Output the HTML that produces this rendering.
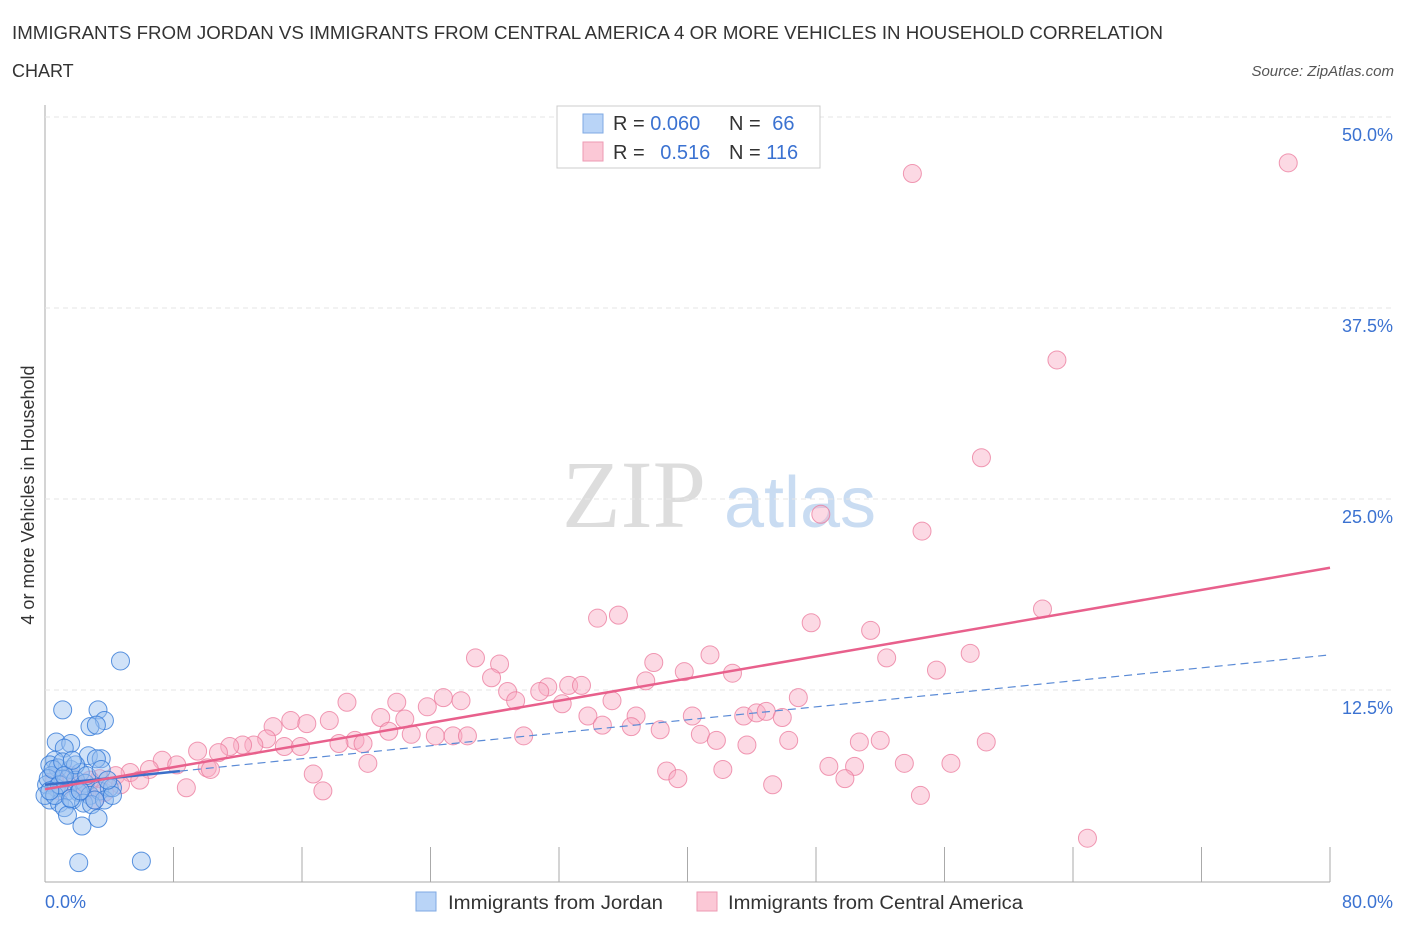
<!DOCTYPE html>
<html><head><meta charset="utf-8"><style>
body{margin:0;background:#fff;font-family:"Liberation Sans",sans-serif;}
#wrap{position:relative;width:1406px;height:930px;overflow:hidden}
</style></head><body>
<div id="wrap">
<svg id="svg" width="1406" height="930" xmlns="http://www.w3.org/2000/svg">
<text x="12" y="39" font-size="18" fill="#333" textLength="1151" lengthAdjust="spacingAndGlyphs">IMMIGRANTS FROM JORDAN VS IMMIGRANTS FROM CENTRAL AMERICA 4 OR MORE VEHICLES IN HOUSEHOLD CORRELATION</text>
<text x="12" y="77" font-size="18" fill="#333">CHART</text>
<text x="1394" y="76" font-size="15" fill="#555" font-style="italic" text-anchor="end">Source: ZipAtlas.com</text>
<text x="634" y="527" font-size="96" fill="#ddd" font-family="Liberation Serif,serif" text-anchor="middle">ZIP</text>
<text x="800" y="527" font-size="72" fill="#c9dcf2" text-anchor="middle">atlas</text>
<text transform="translate(34,495) rotate(-90)" font-size="18" fill="#333" text-anchor="middle">4 or more Vehicles in Household</text>
<g id="grid"></g><g id="marks"></g><g id="lines"></g>
<g>
<rect x="557" y="106" width="263" height="62" fill="#fff" stroke="#ccc"/>
<rect x="583" y="114" width="20" height="19" fill="#b9d4f7" stroke="#7fa9e3"/>
<rect x="583" y="142" width="20" height="19" fill="#fbc8d6" stroke="#ee9ab3"/>
<text x="613" y="130" font-size="20" fill="#333">R = <tspan fill="#3b72d1">0.060</tspan></text>
<text x="729" y="130" font-size="20" fill="#333">N = <tspan dx="6" fill="#3b72d1">66</tspan></text>
<text x="613" y="159" font-size="20" fill="#333">R = <tspan dx="10" fill="#3b72d1">0.516</tspan></text>
<text x="729" y="159" font-size="20" fill="#333">N = <tspan fill="#3b72d1">116</tspan></text>
</g>
<g>
<rect x="416" y="892" width="20" height="19" fill="#b9d4f7" stroke="#7fa9e3"/>
<text x="448" y="909" font-size="19" fill="#333" textLength="215" lengthAdjust="spacingAndGlyphs">Immigrants from Jordan</text>
<rect x="697" y="892" width="20" height="19" fill="#fbc8d6" stroke="#ee9ab3"/>
<text x="728" y="909" font-size="19" fill="#333" textLength="295" lengthAdjust="spacingAndGlyphs">Immigrants from Central America</text>
</g>
</svg></div>
<script>
const xTicks=[0,8,16,24,32,40,48,56,64,72,80];
const yTicks=[12.5,25,37.5,50];
const yTickLabels=["12.5%","25.0%","37.5%","50.0%"];
const pinkX=[54.0,77.4,63.0,58.3,48.3,54.6,62.1,34.4,35.7,47.7,51.4,26.8,28.3,41.4,37.9,52.4,57.6,39.8,55.5,27.8,42.8,37.4,31.3,32.6,33.4,28.8,30.8,24.8,25.9,29.3,18.8,21.9,23.8,32.2,35.3,46.9,20.9,22.4,33.8,36.8,40.3,43.5,44.3,44.9,45.9,15.3,16.3,17.7,14.2,21.4,34.7,36.5,22.8,24.3,25.4,26.3,29.8,38.3,40.8,19.3,19.8,18.3,13.8,14.9,15.9,41.8,46.3,43.7,50.7,52.0,58.6,13.0,12.3,11.5,10.8,9.5,7.3,8.2,10.1,10.3,20.1,48.8,50.4,53.5,56.4,16.7,38.7,42.2,39.4,49.8,45.3,17.3,8.8,54.5,64.9,6.5,5.3,4.4,3.4,2.8,4.7,5.9,1.9,0.9,2.5,3.7,1.6,0.6,3.1];
const pinkY=[46.3,47.0,34.1,27.7,24.0,22.9,17.8,17.2,17.4,16.9,16.4,14.6,14.2,14.8,14.3,14.6,14.9,13.7,13.8,13.3,13.6,13.1,12.7,12.8,12.8,12.4,12.4,12.0,11.8,11.8,11.7,11.7,11.4,11.6,11.8,12.0,10.7,10.6,10.8,10.8,10.8,10.8,11.0,11.1,10.7,10.5,10.3,10.5,10.1,9.8,10.2,10.1,9.6,9.5,9.5,9.5,9.5,9.9,9.6,9.2,9.0,9.0,9.3,8.8,8.8,9.2,9.2,8.9,9.1,9.2,9.1,8.9,8.9,8.8,8.4,8.5,7.9,7.6,7.4,7.3,7.7,7.5,7.5,7.7,7.7,7.0,7.2,7.3,6.7,6.7,6.3,5.9,6.1,5.6,2.8,7.3,7.1,6.9,6.7,6.6,6.3,6.6,6.3,5.9,5.9,5.8,6.9,6.6,5.3];
const blueX=[4.7,1.1,3.3,3.7,2.8,3.2,0.7,1.6,1.2,2.7,3.5,3.2,0.6,0.3,0.8,1.6,2.2,0.4,1.1,1.9,2.5,0.1,0.7,1.4,2.1,2.8,3.4,4.0,0.3,0.9,1.7,2.4,1.2,2.9,3.7,4.2,0,0.6,1.4,3.3,2.3,2.1,6.0,0.2,0.5,1.1,1.9,2.6,0.9,1.6,3.1,0.3,2.2,1.2,1.7,3.5,4.2,3.9];
const blueY=[14.4,11.2,11.2,10.5,10.1,10.2,9.1,9.0,8.7,8.2,8.0,8.0,7.9,7.6,7.4,7.3,7.1,6.9,6.7,6.6,6.4,6.3,6.1,5.9,5.8,5.6,5.9,6.1,5.3,5.1,5.3,5.1,4.8,5.0,5.3,6.1,5.6,5.6,4.3,4.1,3.6,1.2,1.3,6.7,7.3,7.8,7.6,6.9,6.3,5.4,5.3,5.9,5.9,6.9,7.9,7.3,5.6,6.6];
const pinkTrend=[6.0,20.5];
const blueTrend=[6.3,14.8];
const NS='http://www.w3.org/2000/svg';
const X=v=>45+v/80*1285, Y=v=>881-v/12.5*191;
function mk(t,a,p){const e=document.createElementNS(NS,t);for(const k in a)e.setAttribute(k,a[k]);p.appendChild(e);return e;}
const grid=document.getElementById('grid'),marks=document.getElementById('marks'),lines=document.getElementById('lines');
mk('line',{x1:45,y1:105,x2:45,y2:882,stroke:'#aaa'},grid);
mk('line',{x1:45,y1:882,x2:1330,y2:882,stroke:'#aaa'},grid);
yTicks.forEach((t,i)=>{
 const g=mk('line',{x1:45,y1:Y(t),x2:1395,y2:Y(t),stroke:'#e6e6e6','stroke-dasharray':'5,4'},grid);
 
 
 const tx=mk('text',{x:1393,y:Y(t)+24,'font-size':18,fill:'#3b72d1','text-anchor':'end'},grid);
 tx.textContent=yTickLabels[i];
 
 
});
xTicks.forEach(t=>{const l=mk('line',{x1:X(t),y1:847,x2:X(t),y2:882,stroke:'#aaa'},grid);
 
 });
let t0=mk('text',{x:45,y:908,'font-size':18,fill:'#3b72d1'},grid);t0.textContent='0.0%';


let t1=mk('text',{x:1393,y:908,'font-size':18,fill:'#3b72d1','text-anchor':'end'},grid);t1.textContent='80.0%';


pinkX.forEach((v,i)=>{const c=mk('circle',{cx:X(v),cy:Y(pinkY[i]),r:9,fill:'rgba(248,170,195,0.45)',stroke:'rgba(235,120,155,0.75)','stroke-width':1},marks);
 
 });
blueX.forEach((v,i)=>{const c=mk('circle',{cx:X(v),cy:Y(blueY[i]),r:9,fill:'rgba(150,190,240,0.45)',stroke:'rgba(50,120,215,0.8)','stroke-width':1},marks);
 
 });
const bAt=x=>blueTrend[0]+(blueTrend[1]-blueTrend[0])*x/80;
let bl=mk('line',{x1:X(0),y1:Y(bAt(0)),x2:X(8.4),y2:Y(bAt(8.4)),stroke:'#3b6fc9','stroke-width':2.5},lines);


let bd=mk('line',{x1:X(8.4),y1:Y(bAt(8.4)),x2:X(80),y2:Y(bAt(80)),stroke:'#5b8bd6','stroke-width':1.2,'stroke-dasharray':'8,5'},lines);


let pl=mk('line',{x1:X(0),y1:Y(pinkTrend[0]),x2:X(80),y2:Y(pinkTrend[1]),stroke:'#e8608c','stroke-width':2.5},lines);


</script>
</body></html>
